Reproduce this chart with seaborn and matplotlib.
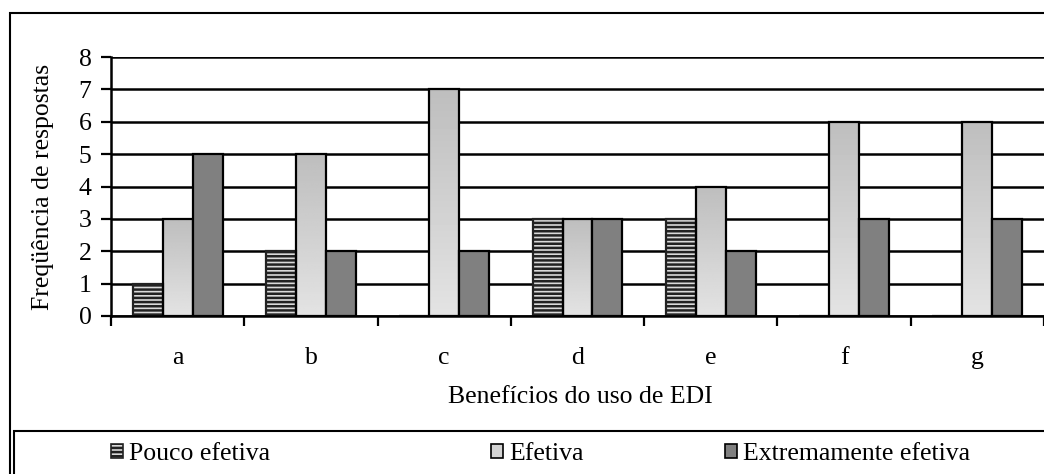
import numpy as np
import pandas as pd
import matplotlib
matplotlib.use("Agg")
import matplotlib.pyplot as plt
from matplotlib.patches import Rectangle
import seaborn as sns

categories = ["a", "b", "c", "d", "e", "f", "g"]
pouco = [1, 2, 0, 3, 3, 0, 0]
efetiva = [3, 5, 7, 3, 4, 6, 6]
extrem = [5, 2, 2, 3, 2, 3, 3]
series = ["Pouco efetiva", "Efetiva", "Extremamente efetiva"]
yticks = [0, 1, 2, 3, 4, 5, 6, 7, 8]

df = pd.DataFrame({
    "cat": categories * 3,
    "val": pouco + efetiva + extrem,
    "serie": [series[0]] * 7 + [series[1]] * 7 + [series[2]] * 7,
})

sns.set_theme(style="white")
plt.rcParams["font.family"] = ["Liberation Serif", "DejaVu Serif"]
plt.rcParams["hatch.color"] = "#3a3a3a"
plt.rcParams["hatch.linewidth"] = 1.8

FS = 18.5

fig = plt.figure(figsize=(10.44, 4.74), dpi=100)
ax = fig.add_axes([111 / 1044, 1 - 316 / 474, (1044 - 111) / 1044, (316 - 57) / 474])

pal = ["#dadada", "#d0d0d0", "#808080"]
sns.barplot(data=df, x="cat", y="val", hue="serie", hue_order=series, order=categories,
            palette=pal, saturation=1, width=0.675, gap=0, edgecolor="black",
            linewidth=1.6, legend=False, ax=ax)

# hatch for first series
for p in ax.containers[0]:
    p.set_hatch("----")
    p.set_edgecolor("#222222")
    p.set_zorder(2)
for p in ax.containers[2]:
    p.set_zorder(2)

# gradient for second series
grad = np.linspace(0.745, 0.89, 64).reshape(-1, 1)
for p in ax.containers[1]:
    x0, w, h = p.get_x(), p.get_width(), p.get_height()
    im = ax.imshow(grad, extent=[x0, x0 + w, 0, h], aspect="auto", cmap="gray",
                   vmin=0, vmax=1, zorder=1.5, interpolation="bilinear")
    im.set_clip_path(p)
    p.set_facecolor("none")
    p.set_zorder(2)

ax.set_xlim(-0.5, 6.5)
ax.set_ylim(0, 8)
ax.set_yticks(yticks)
ax.set_axisbelow(True)
ax.yaxis.grid(True, color="black", linewidth=1.8)
ax.xaxis.grid(False)

for s in ["top", "right"]:
    ax.spines[s].set_visible(False)
for s in ["left", "bottom"]:
    ax.spines[s].set_color("black")
    ax.spines[s].set_linewidth(1.8)

ax.set_xticks(range(len(categories)))
ax.set_xticklabels(categories)
ax.set_xticks(np.arange(-0.5, 7.0, 1.0), minor=True)
ax.tick_params(axis="x", which="major", length=0, pad=22, labelsize=FS, colors="black")
ax.tick_params(axis="x", which="minor", length=7, width=1.6, direction="out", color="black", bottom=True)
ax.tick_params(axis="y", which="major", length=7, width=1.6, direction="out", pad=7,
               labelsize=FS, colors="black", left=True)

ax.set_xlabel("Benefícios do uso de EDI", fontsize=FS, color="black")
ax.set_ylabel("Freqüência de respostas", fontsize=FS, color="black")
ax.xaxis.label.set_va("center")
ax.xaxis.set_label_coords(0.503, -0.313)
ax.yaxis.set_label_coords(-0.061, 0.5)

# outer border and legend box
fig.patches.append(Rectangle((10 / 1044, -0.2), 1.2, 1.2 - 13 / 474, transform=fig.transFigure,
                             fill=False, edgecolor="black", linewidth=1.5, zorder=0))
fig.patches.append(Rectangle((14 / 1044, -0.2), 1.2, 0.2 + (474 - 431) / 474, transform=fig.transFigure,
                             fill=False, edgecolor="black", linewidth=1.5, zorder=0))

# legends
handles = [
    Rectangle((0, 0), 1, 1, facecolor=pal[0], edgecolor="#222222", hatch="----", linewidth=1.2),
    Rectangle((0, 0), 1, 1, facecolor="#d3d3d3", edgecolor="black", linewidth=1.2),
    Rectangle((0, 0), 1, 1, facecolor=pal[2], edgecolor="black", linewidth=1.2),
]

xpos = [111, 491, 725]
for h, lab, xp in zip(handles, series, xpos):
    leg = fig.legend(handles=[h], labels=[lab], loc="center left",
                     bbox_to_anchor=(xp / 1044, 1 - 454 / 474), frameon=False,
                     borderpad=0, borderaxespad=0, handlelength=0.45, handleheight=0.45,
                     handletextpad=0.25, fontsize=FS)
    for t in leg.get_texts():
        t.set_color("black")

fig.savefig("out.png", dpi=100)
